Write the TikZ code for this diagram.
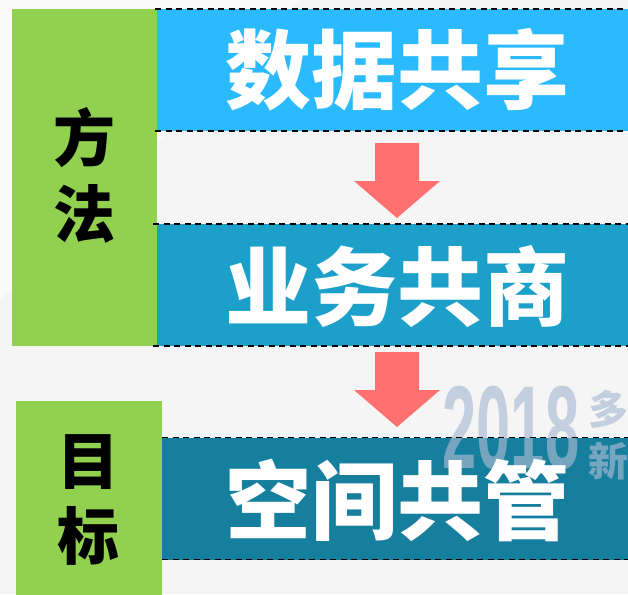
\documentclass[tikz,border=0pt]{standalone}
\usepackage{fontspec}
\newfontfamily\cjk{Noto Sans CJK SC}
\newfontfamily\wmfont{Liberation Sans}
\usetikzlibrary{positioning}
\definecolor{bgc}{HTML}{F5F5F5}
\definecolor{greenc}{HTML}{92D050}
\definecolor{blueA}{HTML}{2BBAFE}
\definecolor{blueB}{HTML}{1CA0C9}
\definecolor{blueC}{HTML}{177F9E}
\definecolor{arrowc}{HTML}{FF7070}
\definecolor{wmc}{HTML}{A9BAD2}
\tikzset{
  bluebox/.style={draw=none, minimum width=475pt, minimum height=122pt, inner sep=0pt, outer sep=0pt},
  greenbox/.style={fill=greenc, draw=none, inner sep=0pt, outer sep=0pt},
  bigtxt/.style={text=white, font=\cjk\bfseries\fontsize{86}{86}\selectfont, inner sep=0pt},
  sidetxt/.style={text=black, font=\cjk\bfseries\fontsize{62}{62}\selectfont, inner sep=0pt},
  dashline/.style={draw=black, line width=1.8pt, dash pattern=on 6pt off 4.5pt},
  blockarrow/.style={fill=arrowc, draw=none}
}
\begin{document}
\begin{tikzpicture}[x=1pt,y=-1pt]
\fill[bgc] (0,0) rectangle (628,594);
\useasboundingbox (0,0) rectangle (628,594);
\fill[white, opacity=0.5] (0,0) -- (300,0) -- (0,300) -- cycle;
% green boxes
\node[greenbox, minimum width=145pt, minimum height=337pt] (g1) at (84.5,177.5) {};
\node[greenbox, minimum width=146pt, minimum height=194pt] (g2) at (89,498) {};
% blue boxes
\node[bluebox, fill=blueA] (b1) at (394.5,70) {};
\node[bluebox, fill=blueB] (b2) at (394.5,285) {};
\node[bluebox, fill=blueC, minimum width=466pt] (b3) at (395,498.5) {};
% watermark
\begin{scope}
\clip (0,0) rectangle (628,594);
\node[text=wmc, opacity=0.65, font=\wmfont\bfseries\fontsize{118}{118}\selectfont, xscale=0.52, inner sep=0pt] (wm) at (511,428) {2018};
\node[text=wmc, opacity=0.65, font=\cjk\bfseries\fontsize{40}{40}\selectfont, inner sep=0pt, anchor=west] (wm1) at (588,409) {多};
\node[text=wmc, opacity=0.65, font=\cjk\bfseries\fontsize{40}{40}\selectfont, inner sep=0pt, anchor=west] (wm2) at (588,461) {新};
\end{scope}
% dashed lines
\draw[dashline] ([xshift=-2pt]b1.north west) -- (b1.north east);
\draw[dashline] ([xshift=-2pt]b1.south west) -- (b1.south east);
\draw[dashline] ([xshift=-4pt]b2.north west) -- (b2.north east);
\draw[dashline] ([xshift=-4pt]b2.south west) -- (b2.south east);
\draw[dashline] (b3.north west) -- (b3.north east);
\draw[dashline] (b3.south west) -- (b3.south east);
% block arrows
\coordinate (a1) at (397,143);
\coordinate (a2) at (397,352);
\foreach \a in {a1,a2}{
  \fill[blockarrow] ([xshift=-22pt]\a) -- ([xshift=22pt]\a) -- ([xshift=22pt,yshift=-38pt]\a) -- ([xshift=43pt,yshift=-38pt]\a) -- ([yshift=-75pt]\a) -- ([xshift=-43pt,yshift=-38pt]\a) -- ([xshift=-22pt,yshift=-38pt]\a) -- cycle;
}
% texts
\node[bigtxt] (t1) at (397,70) {数据共享};
\node[bigtxt] (t2) at (397,287) {业务共商};
\node[bigtxt] (t3) at (397,500) {空间共管};
\node[sidetxt] (s1) at (84,138) {方};
\node[sidetxt] (s2) at (84,214) {法};
\node[sidetxt] (s3) at (88,462) {目};
\node[sidetxt] (s4) at (88,536) {标};
\end{tikzpicture}
\end{document}
